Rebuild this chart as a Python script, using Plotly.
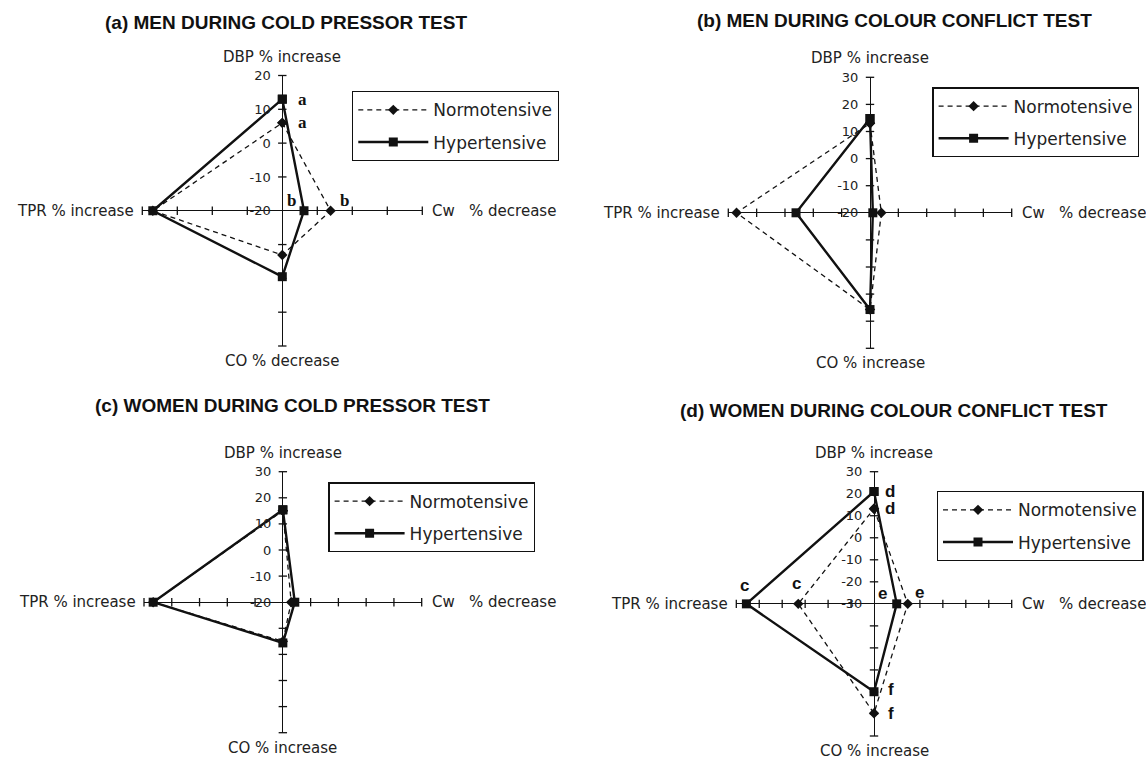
import plotly.graph_objects as go

W, H = 1146, 759

# Spoke order of every radar: DBP (up), Cw (right), CO (down), TPR (left)
spokes = ["DBP", "Cw", "CO", "TPR"]
series_names = ["Normotensive", "Hypertensive"]

# (a) men, cold pressor test
a_norm = [6, -6.2, -6.9, 17]
a_hyp = [13, -13.8, -0.5, 17]
a_ticks = ["-20", "-10", "0", "10", "20"]
# (b) men, colour conflict test
b_norm = [13, -16, 15.7, 27.1]
b_hyp = [14.8, -19, 15.7, 6.1]
b_ticks = ["-20", "-10", "0", "10", "20", "30"]
# (c) women, cold pressor test
c_norm = [15, -17, -5, 26.7]
c_hyp = [15.4, -15.7, -4.4, 26.7]
c_ticks = ["-20", "-10", "0", "10", "20", "30"]
# (d) women, colour conflict test
d_norm = [13.2, -15.3, 19.7, 3]
d_hyp = [21, -20.1, 9.9, 25.6]
d_ticks = ["-30", "-20", "-10", "0", "10", "20", "30"]

titles = ["(a) MEN DURING COLD PRESSOR TEST", "(b) MEN DURING COLOUR CONFLICT TEST",
          "(c) WOMEN DURING COLD PRESSOR TEST", "(d) WOMEN DURING COLOUR CONFLICT TEST"]
co_labels = ["CO % decrease", "CO % increase", "CO % increase", "CO % increase"]

# significance letters: (panel, series, spoke, letter)
sig_letters = [
    (0, 1, 0, "a"), (0, 0, 0, "a"), (0, 1, 1, "b"), (0, 0, 1, "b"),
    (3, 1, 0, "d"), (3, 0, 0, "d"), (3, 1, 3, "c"), (3, 0, 3, "c"),
    (3, 1, 1, "e"), (3, 0, 1, "e"), (3, 1, 2, "f"), (3, 0, 2, "f"),
]

panels = [(a_norm, a_hyp, a_ticks), (b_norm, b_hyp, b_ticks),
          (c_norm, c_hyp, c_ticks), (d_norm, d_hyp, d_ticks)]

# ---------------- layout (pixel geometry) ----------------
boxes = [dict(l=142.3, r=422.3, t=75.5, b=346),
         dict(l=728.3, r=1011.7, t=77.3, b=348.3),
         dict(l=144.0, r=421.7, t=471.7, b=732.7),
         dict(l=736.3, r=1011.7, t=471.7, b=736.0)]
title_pos = [(285.5, 23), (894.4, 20.7), (292.4, 405), (894.4, 410)]
legend_pos = [(352, 91), (932.3, 87.3), (328.3, 482.3), (936.7, 491)]
letter_shift = {
    (0, 1, 0): (20, 0), (0, 0, 0): (20, 0), (0, 1, 1): (-13, 10), (0, 0, 1): (14, 10),
    (3, 1, 0): (16, 0), (3, 0, 0): (16, 0), (3, 1, 3): (-2, 18), (3, 0, 3): (-2, 20),
    (3, 1, 1): (-14, 10), (3, 0, 1): (12, 11), (3, 1, 2): (17, 2), (3, 0, 2): (17, 0),
}

INK = "#111111"
TXT = "#222222"
LBL_FONT = dict(family="DejaVu Sans", size=15, color=TXT)

fig = go.Figure()
annotations = []
layout = dict(width=W, height=H, paper_bgcolor="white", plot_bgcolor="rgba(0,0,0,0)",
              margin=dict(l=0, r=0, t=0, b=0, pad=0, autoexpand=False),
              showlegend=True)


def ax_name(kind, n):
    return kind + ("" if n == 1 else str(n))


def ref(kind, n):
    return kind[0] + ("" if n == 1 else str(n))


styles = [dict(dash="5px,4px", width=1.3, symbol="diamond", size=8),
          dict(dash="solid", width=2.4, symbol="square", size=9)]

for i, (norm, hyp, ticks) in enumerate(panels):
    n = i + 1
    base = float(ticks[0])
    R = 10 * (len(ticks) - 1)
    bx = boxes[i]
    cx = (bx["l"] + bx["r"]) / 2
    cy = (bx["t"] + bx["b"]) / 2
    tv = list(range(-R, R + 1, 10))
    tv_nz = [v for v in tv if v != 0]
    yt_text = [ticks[v // 10] if v >= 0 else "" for v in tv]
    xr, yr = ref("x", n), ref("y", n)

    common = dict(range=[-R, R], showgrid=False, fixedrange=True, showline=False,
                  zeroline=True, zerolinecolor=INK, zerolinewidth=1.3)
    layout[ax_name("xaxis", n)] = dict(common, domain=[bx["l"] / W, bx["r"] / W],
                                       anchor=yr, ticks="", showticklabels=False)
    layout[ax_name("yaxis", n)] = dict(common, domain=[1 - bx["b"] / H, 1 - bx["t"] / H],
                                       anchor="free", position=cx / W,
                                       ticks="outside", ticklen=4,
                                       tickcolor="rgba(0,0,0,0)", tickvals=tv,
                                       ticktext=yt_text, ticklabelstandoff=5,
                                       tickfont=dict(family="DejaVu Sans", size=13, color=TXT))

    # crossing tick marks on the four spokes, at the axis tick values
    tick_marker = dict(size=6, color=INK, line=dict(width=1.3, color=INK))
    fig.add_trace(go.Scatter(x=tv_nz, y=[0] * len(tv_nz), mode="markers", xaxis=xr, yaxis=yr,
                             marker=dict(tick_marker, symbol="line-ns"), showlegend=False,
                             hoverinfo="skip", cliponaxis=False))
    fig.add_trace(go.Scatter(x=[0] * len(tv_nz), y=tv_nz, mode="markers", xaxis=xr, yaxis=yr,
                             marker=dict(tick_marker, symbol="line-ew"), showlegend=False,
                             hoverinfo="skip", cliponaxis=False))

    lg = "legend" if n == 1 else f"legend{n}"
    lx, ly = legend_pos[i]
    layout[lg] = dict(x=lx / W, y=1 - ly / H, xanchor="left", yanchor="top",
                      bgcolor="white", bordercolor=INK, borderwidth=1.3,
                      font=dict(family="DejaVu Sans", size=17, color=TXT),
                      traceorder="grouped", tracegroupgap=7, itemwidth=70)

    pts = {}
    for s, vals in enumerate([norm, hyp]):
        d = [v - base for v in vals]
        xs = [0, d[1], 0, -d[3], 0]
        ys = [d[0], 0, -d[2], 0, d[0]]
        pts[s] = list(zip(xs[:4], ys[:4]))
        st = styles[s]
        fig.add_trace(go.Scatter(
            x=xs, y=ys, mode="lines+markers", name=series_names[s],
            xaxis=xr, yaxis=yr, legend=lg,
            legendgroup=f"p{n}s{s}", cliponaxis=False, hoverinfo="skip",
            line=dict(color=INK, width=st["width"], dash=st["dash"]),
            marker=dict(symbol=st["symbol"], size=st["size"], color=INK,
                        line=dict(width=0))))

    annotations += [
        dict(text="DBP % increase", x=0, y=R, xref=xr, yref=yr, xanchor="center",
             yanchor="bottom", yshift=8, showarrow=False, font=LBL_FONT),
        dict(text=co_labels[i], x=0, y=-R, xref=xr, yref=yr, xanchor="center",
             yanchor="top", yshift=-4, showarrow=False, font=LBL_FONT),
        dict(text="TPR % increase", x=-R, y=0, xref=xr, yref=yr, xanchor="right",
             yanchor="middle", xshift=-6, showarrow=False, font=LBL_FONT),
        dict(text="Cw\u00a0\u00a0\u00a0% decrease", x=R, y=0, xref=xr, yref=yr,
             xanchor="left", yanchor="middle", xshift=8, showarrow=False, font=LBL_FONT),
    ]
    tx, ty = title_pos[i]
    annotations.append(dict(text="<b>" + titles[i] + "</b>", x=tx / W, y=1 - ty / H,
                            xref="paper", yref="paper", xanchor="center", yanchor="middle",
                            showarrow=False,
                            font=dict(family="Liberation Sans", size=19, color=INK)))

    for (p, s, k, letter) in sig_letters:
        if p != i:
            continue
        px, py = pts[s][k]
        dx, dy = letter_shift[(p, s, k)]
        fam = "Liberation Serif" if p == 0 else "Liberation Sans"
        annotations.append(dict(text="<b>" + letter + "</b>", x=px, y=py, xref=xr, yref=yr,
                                xanchor="center", yanchor="middle", xshift=dx, yshift=dy,
                                showarrow=False,
                                font=dict(family=fam, size=17, color=INK)))

layout["annotations"] = annotations
fig.update_layout(**layout)
fig.write_html("out.html", config={"displayModeBar": False},
               post_script="document.body.style.margin='0';")
